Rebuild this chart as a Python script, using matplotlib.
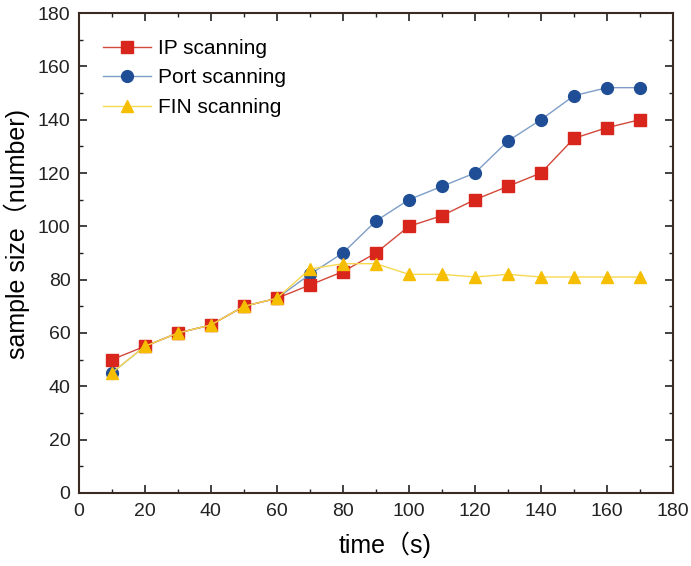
import matplotlib
matplotlib.use("Agg")
import matplotlib.pyplot as plt
from matplotlib.ticker import MultipleLocator

plt.rcParams['font.family'] = ['Liberation Sans', 'Noto Sans CJK SC', 'DejaVu Sans']

time = [10, 20, 30, 40, 50, 60, 70, 80, 90, 100, 110, 120, 130, 140, 150, 160, 170]
ip_scanning = [50, 55, 60, 63, 70, 73, 78, 83, 90, 100, 104, 110, 115, 120, 133, 137, 140]
port_scanning = [45, 55, 60, 63, 70, 73, 82, 90, 102, 110, 115, 120, 132, 140, 149, 152, 152]
fin_scanning = [45, 55, 60, 63, 70, 73, 84, 86, 86, 82, 82, 81, 82, 81, 81, 81, 81]

fig = plt.figure(figsize=(6.91, 5.66), dpi=100)
ax = fig.add_axes([0.114, 0.129, 0.860, 0.848])

ax.plot(time, ip_scanning, color='#D2483A', lw=1.0, marker='s', ms=8,
        mfc='#D9261C', mec='#D9261C', label='IP scanning', zorder=3)
ax.plot(time, port_scanning, color='#7E9EC8', lw=1.0, marker='o', ms=8.5,
        mfc='#1F4E96', mec='#1F4E96', label='Port scanning', zorder=2)
ax.plot(time, fin_scanning, color='#F6D850', lw=1.0, marker='^', ms=9,
        mfc='#F5BE00', mec='#F5BE00', label='FIN scanning', zorder=4)

ax.set_xlim(0, 180)
ax.set_ylim(0, 180)
ax.xaxis.set_major_locator(MultipleLocator(20))
ax.xaxis.set_minor_locator(MultipleLocator(10))
ax.yaxis.set_major_locator(MultipleLocator(20))
ax.yaxis.set_minor_locator(MultipleLocator(10))
ax.tick_params(which='both', direction='in', top=True, right=True, colors='#222222',
               labelsize=14)
ax.tick_params(which='major', length=6, width=1.2)
ax.tick_params(which='minor', length=3, width=1.0)
ax.tick_params(axis='x', pad=7)
ax.tick_params(axis='y', pad=6)
for s in ax.spines.values():
    s.set_color('#3a2a22')
    s.set_linewidth(1.5)

ax.set_xlabel('time（s)', fontsize=18)
ax.set_ylabel('sample size（number)', fontsize=18)
ax.xaxis.set_label_coords(0.515, -0.08)
ax.yaxis.set_label_coords(-0.082, 0.54)

leg = ax.legend(loc='upper left', frameon=False, fontsize=15, bbox_to_anchor=(0.01, 0.985),
                handlelength=2.3, handletextpad=0.3, labelspacing=0.5)

fig.savefig('out.png', dpi=100)
